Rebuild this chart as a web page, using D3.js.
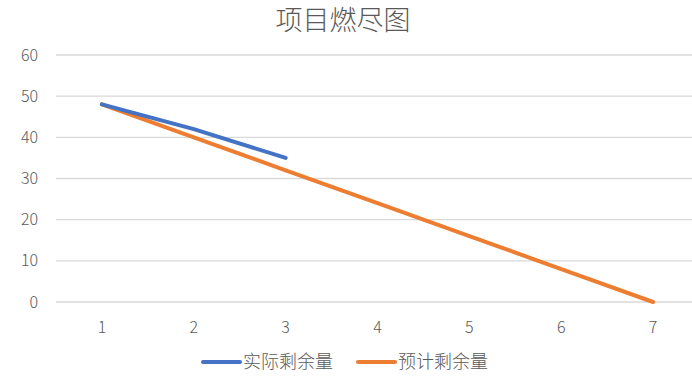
<!DOCTYPE html>
<html>
<head>
<meta charset="utf-8">
<script src="https://cdn.jsdelivr.net/npm/d3@7"></script>
<style>
  body { margin: 0; background: #fff; }
  text { font-family: "Noto Sans CJK SC", "Noto Sans", sans-serif; fill: #595959; }
</style>
</head>
<body>
<script>
const width = 692
const height = 376

const title = '项目燃尽图'
const days = ['1', '2', '3', '4', '5', '6', '7']
const actual = [48, 42, 35]
const planned = [48, 40, 32, 24, 16, 8, 0]
const yTicks = [0, 10, 20, 30, 40, 50, 60]
const seriesNames = ['实际剩余量', '预计剩余量']
const colors = ['#4472C4', '#ED7D31']

const margin = { left: 56, right: -7, top: 55, bottom: 74 }

const svg = d3.select('body').append('svg')
  .attr('width', width)
  .attr('height', height)

const x = d3.scaleBand()
  .domain(days)
  .range([margin.left, width - margin.right])

const y = d3.scaleLinear()
  .domain([0, 60])
  .range([height - margin.bottom, margin.top])

// gridlines
svg.append('g')
  .selectAll('line')
  .data(yTicks)
  .enter().append('line')
  .attr('x1', margin.left)
  .attr('x2', width - margin.right)
  .attr('y1', d => y(d))
  .attr('y2', d => y(d))
  .attr('stroke', '#d9d9d9')
  .attr('stroke-width', 1.3)

// y labels
svg.append('g')
  .selectAll('text')
  .data(yTicks)
  .enter().append('text')
  .attr('x', 38)
  .attr('y', d => y(d))
  .attr('dy', '0.35em')
  .attr('text-anchor', 'end')
  .style('font-size', '16px')
  .style('font-weight', 300)
  .text(d => d)

// x labels
svg.append('g')
  .selectAll('text')
  .data(days)
  .enter().append('text')
  .attr('x', d => x(d) + x.bandwidth() / 2)
  .attr('y', 327)
  .attr('dy', '0.35em')
  .attr('text-anchor', 'middle')
  .style('font-size', '16px')
  .style('font-weight', 300)
  .text(d => d)

const line = d3.line()
  .x((d, i) => x(days[i]) + x.bandwidth() / 2)
  .y(d => y(d))

// draw planned first, actual on top
;[[planned, colors[1]], [actual, colors[0]]].forEach(([vals, c]) => {
  svg.append('path')
    .datum(vals)
    .attr('d', line)
    .attr('fill', 'none')
    .attr('stroke', c)
    .attr('stroke-width', 4)
    .attr('stroke-linecap', 'round')
    .attr('stroke-linejoin', 'round')
})

// title
svg.append('text')
  .attr('x', 343)
  .attr('y', 21)
  .attr('dy', '0.35em')
  .attr('text-anchor', 'middle')
  .style('font-size', '27px')
  .style('font-weight', 300)
  .text(title)

// legend
const legendX = [203, 358]
const lg = svg.append('g')
  .selectAll('g')
  .data(seriesNames)
  .enter().append('g')
  .attr('transform', (d, i) => `translate(${legendX[i]},362)`)

lg.append('line')
  .attr('x1', 0)
  .attr('x2', 37)
  .attr('stroke', (d, i) => colors[i])
  .attr('stroke-width', 4)
  .attr('stroke-linecap', 'round')

lg.append('text')
  .attr('x', 40)
  .attr('dy', '0.35em')
  .style('font-size', '18px')
  .style('font-weight', 300)
  .text(d => d)
</script>
</body>
</html>
